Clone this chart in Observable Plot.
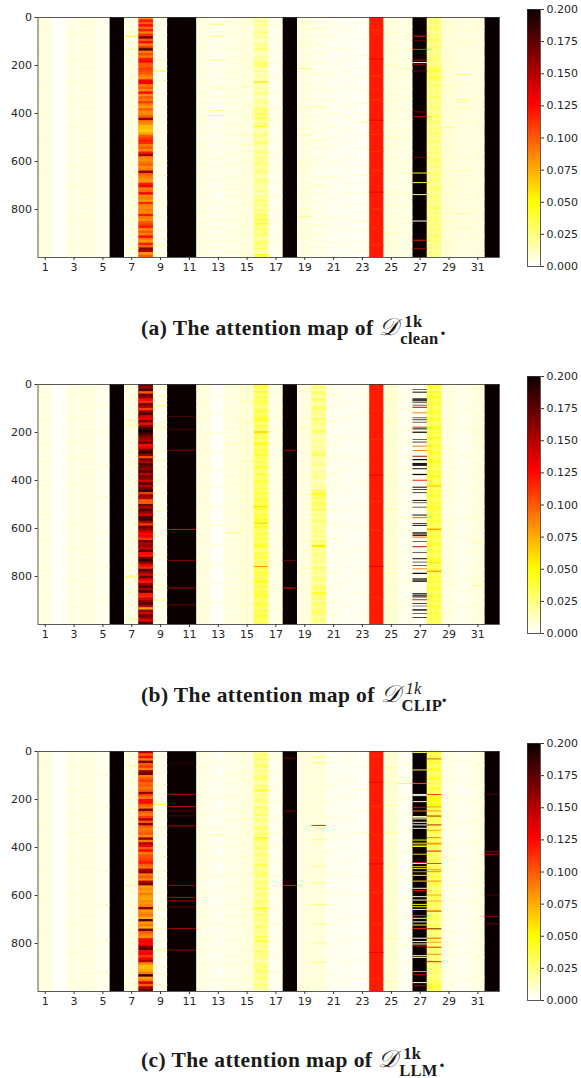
<!DOCTYPE html>
<html><head><meta charset="utf-8">
<script src="https://cdn.jsdelivr.net/npm/d3@7"></script>
<script src="https://cdn.jsdelivr.net/npm/@observablehq/plot@0.6"></script>
<style>
html,body{margin:0;padding:0;background:#fff}
#page{position:relative;width:581px;height:1078px;overflow:hidden}
#page svg{position:absolute;background:transparent;overflow:visible}
.cap{position:absolute;white-space:nowrap;font:bold 21.5px "Liberation Serif",serif;letter-spacing:.4px;color:#1a1a1a;line-height:24px}
.cap .d{display:inline-block;width:21px;font:italic 24px/24px "DejaVu Serif","Liberation Serif",serif;letter-spacing:0}
.cap .st{position:absolute;font-size:16.5px;line-height:15px;letter-spacing:.3px}
</style></head><body><div id="page"></div>
<script>
const domainV=[0,.05,.127,.2], rangeC=["#ffffff","#ffff00","#ff0000","#0b0000"];
const columnsTick=[1,3,5,7,9,11,13,15,17,19,21,23,25,27,29,31];
const rowTicks=[0,200,400,600,800];
const barTicks=[0,.025,.05,.075,.1,.125,.15,.175,.2];
const captions=[["(a) The attention map of ","1k","clean",false],["(b) The attention map of ","1k","CLIP",true],["(c) The attention map of ","1k","LLM",false]];

// base level of each of the 32 columns
const baseA=[.006,.001,.005,.006,.004,.2,.005,.09,.004,.2,.2,.005,.003,.005,.006,.018,.004,.2,.006,.004,.003,.003,.002,.119,.006,.005,.2,.022,.008,.006,.006,.2];
const baseB=[.005,.001,.005,.006,.004,.2,.005,.165,.004,.2,.2,.006,.002,.006,.008,.03,.005,.2,.006,.022,.004,.003,.003,.119,.008,.004,.003,.033,.006,.004,.006,.2];
const baseC=[.006,.001,.005,.006,.004,.2,.005,.105,.004,.2,.2,.005,.003,.005,.006,.022,.004,.2,.006,.007,.003,.003,.002,.119,.008,.003,.2,.028,.005,.003,.005,.2];

// one value per ten rows
const col8A=[.085,.12,.1,.125,.095,.12,.09,.115,.17,.1,.125,.09,.11,.18,.09,.105,.09,.12,.13,.1,.1,.11,.105,.1,.09,.085,.13,.13,.09,.1,.085,.125,.085,.1,.09,.11,.09,.08,.1,.085,.085,.1,.16,.09,.085,.07,.07,.065,.075,.1,.11,.12,.115,.09,.1,.085,.12,.16,.09,.085,.09,.1,.085,.09,.16,.1,.09,.085,.08,.12,.13,.09,.095,.13,.085,.09,.08,.115,.09,.085,.09,.085,.12,.09,.085,.1,.11,.12,.085,.1,.09,.125,.09,.08,.12,.095,.16,.15,.08,.1];
const col8B=[.17,.16,.18,.1,.17,.16,.125,.115,.17,.15,.11,.16,.18,.14,.13,.17,.125,.16,.18,.2,.19,.17,.16,.15,.17,.125,.13,.17,.19,.16,.105,.17,.15,.18,.17,.16,.18,.15,.17,.16,.14,.18,.15,.17,.19,.11,.16,.15,.1,.1,.17,.15,.18,.16,.14,.18,.19,.15,.11,.17,.16,.14,.125,.13,.11,.17,.15,.16,.14,.18,.125,.12,.17,.19,.16,.13,.115,.18,.16,.14,.17,.13,.12,.16,.18,.15,.19,.12,.115,.14,.16,.18,.15,.08,.16,.14,.17,.16,.13,.18];
const col8C=[.15,.1,.125,.09,.165,.1,.11,.09,.16,.17,.09,.1,.11,.095,.1,.09,.1,.155,.105,.09,.125,.125,.1,.09,.17,.1,.09,.11,.15,.1,.165,.1,.09,.095,.1,.085,.16,.09,.15,.13,.1,.125,.09,.1,.105,.11,.12,.1,.09,.15,.16,.09,.1,.085,.15,.17,.08,.085,.075,.09,.08,.075,.085,.08,.09,.16,.08,.085,.09,.075,.18,.08,.09,.075,.17,.1,.09,.085,.125,.13,.125,.16,.18,.125,.13,.11,.13,.15,.09,.07,.07,.075,.09,.19,.08,.09,.14,.1,.15,.17];
const col16A=[.016,.02,.014,.022,.012,.018,.024,.014,.02,.012,.016,.022,.018,.026,.014,.012,.02,.016,.024,.03,.018,.014,.022,.012,.02,.016,.018,.024,.013,.02,.015,.022,.018,.012,.02,.024,.016,.02,.03,.026,.03,.02,.028,.016,.026,.022,.018,.014,.02,.026,.016,.022,.028,.018,.014,.02,.026,.016,.022,.018,.024,.026,.016,.02,.028,.018,.014,.022,.026,.018,.02,.016,.024,.014,.022,.018,.028,.02,.026,.016,.028,.02,.032,.026,.036,.024,.032,.022,.03,.02,.03,.024,.018,.026,.03,.02,.028,.018,.014,.032];
const col16B=[.04,.032,.028,.038,.024,.034,.028,.036,.03,.024,.03,.038,.026,.034,.04,.03,.026,.036,.028,.03,.038,.03,.034,.026,.04,.032,.028,.036,.03,.04,.032,.026,.034,.028,.038,.03,.024,.036,.03,.028,.036,.032,.026,.034,.028,.038,.03,.034,.04,.03,.036,.042,.034,.028,.04,.032,.044,.036,.03,.042,.034,.026,.038,.03,.036,.028,.034,.04,.03,.024,.036,.03,.04,.026,.034,.03,.038,.028,.04,.034,.03,.038,.044,.03,.036,.028,.04,.032,.036,.03,.028,.038,.034,.026,.036,.03,.04,.032,.028,.036];
const col16C=[.016,.028,.022,.032,.018,.024,.03,.02,.026,.018,.024,.03,.02,.016,.028,.022,.032,.018,.024,.02,.028,.022,.016,.03,.024,.02,.032,.018,.026,.022,.016,.024,.03,.02,.026,.018,.036,.028,.02,.024,.03,.018,.022,.028,.02,.026,.018,.032,.024,.02,.026,.03,.022,.018,.028,.02,.024,.03,.018,.026,.022,.02,.03,.024,.018,.036,.026,.02,.03,.022,.028,.018,.024,.03,.02,.026,.018,.032,.022,.028,.02,.024,.018,.03,.022,.026,.02,.016,.024,.028,.02,.03,.024,.018,.028,.022,.016,.026,.02,.018];
const col28A=[.03,.024,.028,.022,.03,.026,.02,.028,.024,.03,.026,.022,.03,.024,.02,.026,.022,.028,.024,.02,.028,.034,.04,.03,.026,.036,.028,.022,.03,.026,.022,.028,.024,.03,.02,.026,.022,.028,.024,.02,.026,.03,.022,.028,.024,.02,.026,.022,.03,.024,.02,.028,.024,.02,.026,.022,.028,.02,.024,.03,.026,.022,.028,.02,.024,.03,.022,.028,.024,.02,.026,.03,.024,.02,.028,.022,.026,.02,.024,.03,.022,.026,.02,.024,.028,.02,.026,.022,.028,.02,.024,.03,.022,.026,.02,.024,.022,.02,.026,.022];
const col28B=[.042,.036,.03,.04,.034,.044,.03,.036,.04,.03,.034,.04,.036,.03,.042,.034,.03,.036,.044,.032,.038,.03,.04,.034,.03,.042,.036,.03,.04,.034,.03,.038,.044,.032,.036,.03,.04,.034,.044,.036,.03,.04,.034,.03,.038,.03,.042,.034,.03,.04,.034,.044,.036,.03,.04,.032,.036,.04,.03,.034,.042,.036,.03,.04,.034,.03,.044,.036,.03,.04,.034,.03,.038,.042,.032,.036,.03,.04,.034,.03,.038,.032,.04,.03,.036,.042,.03,.034,.04,.03,.036,.03,.04,.034,.03,.038,.032,.036,.03,.034];
const col28C=[.04,.03,.036,.028,.042,.034,.03,.04,.032,.028,.036,.042,.03,.034,.028,.04,.034,.03,.036,.044,.046,.04,.05,.03,.036,.028,.034,.04,.03,.036,.028,.034,.03,.04,.03,.026,.036,.03,.034,.028,.03,.036,.026,.032,.028,.036,.03,.026,.034,.028,.036,.03,.04,.028,.034,.036,.03,.026,.034,.028,.036,.03,.026,.034,.028,.03,.036,.026,.03,.034,.028,.024,.032,.028,.036,.024,.03,.026,.034,.028,.024,.032,.028,.024,.03,.026,.024,.032,.028,.022,.03,.026,.03,.024,.028,.03,.032,.036,.04,.034];
const col20B=[.02,.028,.016,.03,.024,.018,.032,.022,.016,.028,.03,.02,.024,.016,.03,.022,.026,.018,.02,.03,.024,.016,.014,.02,.018,.014,.022,.018,.026,.03,.02,.014,.018,.024,.016,.012,.02,.016,.024,.018,.012,.016,.02,.014,.03,.036,.026,.034,.024,.032,.03,.024,.032,.02,.026,.018,.024,.028,.018,.022,.02,.026,.016,.024,.018,.028,.02,.05,.024,.018,.022,.026,.018,.024,.02,.016,.03,.02,.024,.016,.022,.026,.018,.02,.028,.03,.022,.036,.024,.03,.02,.032,.024,.024,.03,.03,.022,.02,.028,.02];

// rows with a faint streak in each pale column
const faintA={1:[40,130,220,290,400,510,640,780,880],3:[70,180,270,350,460,620,700,850,950],4:[30,120,210,300,380,520,590,730,820,940],
7:[15,60,105,160,210,255,310,370,445,495,560,610,670,735,790,840,905,965],9:[30,75,130,205,265,320,375,440,480,545,600,660,715,780,835,890,925,985],
12:[12,45,85,125,150,195,240,270,315,360,410,435,480,530,575,610,655,690,735,780,815,860,905,950,985],
13:[60,110,140,220,260,330,355,440,470,520,555,625,680,720,770,810,845,910,935,985],
14:[20,70,105,165,195,255,300,355,395,450,520,570,610,665,700,750,795,845,885,930,975],
15:[10,55,110,150,210,245,320,370,410,455,560,600,650,740,780,830,900,945,990],
17:[35,95,140,190,255,315,380,430,510,570,630,690,745,805,855,930],
19:[50,75,125,160,185,245,280,310,345,410,440,465,525,560,600,650,690,715,770,800,865,895,950,985],
20:[20,75,110,150,185,235,275,305,340,410,440,480,545,590,620,665,735,770,815,845,900,935,985],
21:[30,85,130,195,240,300,345,400,455,500,540,605,665,715,760,835,875,940],
22:[55,130,175,225,285,370,415,470,520,585,620,690,735,790,835,885,950],
23:[25,95,160,210,300,360,400,490,545,620,660,730,780,815,890,930,975],
25:[20,65,115,150,240,285,325,385,430,470,535,590,630,680,720,785,825,870,940,985],
26:[40,90,135,175,250,340,385,425,505,560,605,690,735,790,835,900,950],
29:[35,75,125,220,255,320,365,420,495,545,585,640,680,735,790,825,890,940,980],
30:[15,60,120,155,200,275,310,400,435,480,530,590,665,715,760,850,900,945],
31:[40,110,170,205,280,335,385,435,520,565,620,680,760,800,860,910,985]};
const faintB={1:[60,150,250,330,430,540,650,770,890],3:[40,140,240,310,420,580,680,820,930],4:[25,105,190,290,360,500,600,710,830,920],5:[80,200,340,470,620,760,900],
7:[20,65,120,170,225,280,340,400,465,520,575,640,690,755,820,870,925,975],9:[15,70,120,160,215,280,345,400,455,505,560,625,680,730,795,860,925,975],
12:[25,70,100,140,210,250,285,335,380,425,490,530,570,630,665,730,765,790,850,885,925,965,990],
13:[50,130,205,280,360,430,510,590,670,750,830,910],
14:[15,60,95,140,185,225,290,340,385,445,490,540,590,650,690,745,790,830,880,920,965],
15:[20,45,100,125,195,235,270,355,390,425,490,540,575,650,690,735,770,830,875,955],
17:[40,95,135,195,250,310,390,445,505,575,625,695,750,800,860,935],
19:[20,60,95,140,215,255,340,385,430,500,545,590,650,695,730,800,845,880,910,975],
21:[45,95,155,250,310,370,425,525,585,640,745,785,850,910,965],
22:[75,140,220,300,350,440,520,590,700,765,830,930],
23:[40,130,230,320,410,500,600,690,780,870,960],
25:[15,35,90,125,190,215,270,320,350,415,455,490,550,590,650,700,735,770,820,860,895,960,985],
26:[55,105,190,240,300,355,440,490,560,610,700,745,820,920],
29:[30,80,150,195,270,320,375,445,495,570,610,680,745,790,840,910,960],
30:[45,110,180,300,350,420,480,560,640,700,810,865,930],
31:[20,75,130,165,280,330,385,440,510,560,610,700,770,810,880,920,975]};
const faintC={1:[50,120,230,310,420,500,610,760,870],3:[65,160,260,340,450,600,720,840,960],4:[35,115,200,280,370,490,580,690,810,930],5:[100,230,360,500,640,790,920],
7:[25,85,130,170,240,290,350,390,450,510,590,640,700,760,800,860,920,980],9:[25,90,140,180,250,290,350,400,440,530,590,630,700,740,790,860,930,975],
12:[15,70,100,185,220,265,330,365,405,450,495,530,590,650,690,730,790,830,885,925,965],
13:[40,110,200,260,320,400,450,520,590,670,720,770,830,890,950],
14:[15,95,135,185,240,290,365,395,450,510,560,640,690,730,785,850,885,950],
15:[20,85,120,215,250,310,345,395,470,510,560,610,690,720,770,835,880,940],
17:[30,85,150,210,275,340,400,460,520,590,650,720,790,850,920],
19:[15,60,95,170,220,260,330,375,450,490,535,570,640,695,730,810,850,890,950,985],
21:[50,140,205,280,355,420,515,590,640,720,815,870,935],
22:[30,120,190,280,350,460,510,600,700,790,880,950],
23:[70,160,250,340,430,520,600,690,780,870,950],
25:[15,100,160,195,260,290,370,410,445,520,560,630,680,720,800,845,900,935,985],
26:[50,110,200,260,330,420,530,610,690,810,880],
29:[20,85,125,215,250,330,400,450,490,560,620,690,750,810,850,920,965],
30:[40,120,200,300,380,450,560,620,760,840,950],
31:[60,140,210,290,380,490,560,630,700,800,860,940]};

// [row, value] or [row, value, rows tall]
const stripesA={7:[[80,.05],[135,.02],[40,.012],[330,.015],[520,.012],[690,.012],[850,.012]],
9:[[5,.012],[180,.015],[225,.045],[410,.012],[620,.015],[770,.01],[950,.02]],
13:[[30,.04],[80,.035],[180,.03],[290,.02],[300,.015],[390,.025],[410,.03],[590,.02],[650,.012],[880,.015],[960,.012]],
14:[[130,.012],[230,.01],[330,.012],[490,.015],[720,.012],[820,.01]],
15:[[30,.012],[90,.01],[180,.015],[290,.02],[490,.02],[530,.02],[700,.012],[870,.012]],
16:[[205,.04],[270,.06],[420,.04],[455,.05],[860,.042],[990,.05]],
19:[[28,.012],[100,.012],[215,.03],[380,.015],[493,.02],[620,.012],[740,.015],[830,.03],[920,.015]],
20:[[48,.02],[375,.025],[514,.02],[700,.015],[870,.015],[960,.015]],
23:[[250,.01],[437,.02],[690,.012],[850,.015]],
24:[[55,.11],[70,.112],[175,.13],[245,.11],[300,.114],[345,.11],[430,.132],[490,.11],[560,.112],[640,.11],[730,.132],[800,.11],[880,.112],[950,.11]],
25:[[200,.02],[350,.012],[500,.015],[740,.015],[900,.02]],
26:[[215,.022],[300,.012],[470,.015],[650,.015],[860,.015]],
28:[[250,.045]],
29:[[285,.02],[460,.025],[180,.015],[700,.015],[850,.02]],
30:[[240,.03],[345,.025],[355,.025],[380,.02],[100,.015],[640,.02],[820,.025],[880,.02]]};
const col27A=[[80,.13],[97,.17],[135,.115],[180,.15],[190,.003],[198,.16],[225,.17],[395,.17],[415,.14],[585,.17],[650,.05],[690,.04],[740,.02],[850,.002],[930,.12],[965,.15]];
const blockA=[];

const stripesB={7:[[150,.025],[175,.02],[320,.012],[620,.015],[750,.012],[800,.03],[805,.03],[980,.02]],
9:[[50,.015],[90,.03],[180,.025],[320,.015],[530,.02],[710,.015],[840,.02],[900,.03]],
14:[[250,.018],[620,.03],[420,.012],[850,.012]],
15:[[70,.02],[160,.018],[320,.018],[450,.016],[610,.018],[800,.012],[920,.018]],
16:[[150,.05],[200,.075],[250,.055],[510,.06],[580,.065],[675,.05],[760,.085],[880,.05]],
18:[[276,.15],[850,.13],[735,.17]],
19:[[30,.012],[180,.02],[300,.012],[460,.015],[620,.012],[770,.015],[950,.012]],
20:[[460,.05],[675,.06],[870,.045]],
24:[[110,.112],[230,.11],[380,.13],[490,.112],[610,.11],[760,.132],[890,.112]],
25:[[60,.02],[160,.018],[380,.015],[520,.02],[790,.015],[930,.015]],
28:[[225,.055],[425,.07],[605,.09],[745,.06],[780,.085]],
31:[[200,.02],[240,.012],[660,.02],[840,.025]]};
const col27B=[[23,.2,2.5],[34,.2],[62,.2],[66,.2],[70,.2],[78,.2,2.5],[88,.2,2.5],[97,.15],[120,.09],[141,.2,2.5],[149,.2,3],[159,.2,2.5],[180,.12],[187,.2],[201,.2,5],[231,.2,2.5],[242,.2,3],[259,.09],[277,.09],[301,.15],[315,.2,5],[331,.2],[335,.2],[339,.2],[353,.2],[377,.2,5],[401,.12],[430,.2,4],[440,.2,3],[453,.2,3],[485,.2,4],[495,.2,2.5],[513,.2,2.5],[546,.2],[557,.1],[581,.2,3],[589,.2],[620,.2],[625,.2,4],[631,.18],[638,.1],[656,.2,2.5],[678,.14],[703,.2,2.5],[728,.2],[742,.2,2.5],[756,.2,2.5],[770,.09],[789,.2,5],[812,.2],[817,.2],[822,.2],[874,.2],[880,.2],[887,.2],[899,.13],[914,.2,3],[925,.2,2],[939,.2,3],[944,.2,2.5],[956,.2,2.5],[973,.2,3]];
const blockB=[[135,.18],[190,.18],[276,.16],[606,.135],[735,.16],[850,.15],[920,.17]];

const stripesC={7:[[60,.02],[200,.012],[310,.012],[560,.03],[720,.012],[830,.012],[970,.012]],
9:[[222,.05],[60,.012],[320,.015],[500,.015],[660,.012],[830,.03],[900,.012]],
13:[[350,.025]],
15:[[280,.018],[440,.015],[660,.015]],
16:[[165,.045],[360,.05],[655,.05],[790,.045]],
18:[[30,.17],[250,.17],[560,.13]],
20:[[25,.03],[50,.03],[310,.12],[370,.03],[480,.025],[550,.03],[640,.03],[720,.025],[800,.025],[880,.03]],
24:[[20,.112],[130,.13],[230,.11],[350,.112],[470,.13],[590,.11],[720,.112],[840,.13],[950,.112]],
25:[[70,.022],[130,.02],[225,.02],[340,.02],[480,.015],[780,.02],[960,.02]],
26:[[135,.045]],
32:[[180,.18],[420,.16],[430,.15],[690,.16],[720,.17],[600,.18]]};
const col27C=[[6,.03],[79,.04],[135,.1],[181,.001],[186,.01],[211,.002],[236,.14],[250,.09],[273,.01],[278,.01],[283,.02],[297,.01],[308,.004],[322,.002],[371,.04],[384,.05],[392,.06],[398,.05],[430,.06],[464,.12],[469,.002],[482,.06],[490,.06],[503,.09],[518,.05],[542,.06],[572,.02],[582,.12],[607,.004],[621,.01],[639,.05],[649,.05],[660,.03],[686,.12],[697,.02],[712,.01],[725,.04],[739,.11],[780,.002],[794,.01],[804,.003],[812,.14],[853,.004],[860,.02],[919,.08],[932,.15],[965,.01],[978,.15]];
const accent28C=[[-2,.17],[33,.11],[79,.045],[181,.12],[233,.085],[250,.09],[271,.16],[308,.16],[330,.08],[361,.09],[386,.08,8],[417,.14],[469,.12],[495,.09],[503,.09],[542,.09],[600,.08],[625,.08],[667,.13],[741,.18],[780,.11],[797,.08],[818,.1,5],[847,.09],[878,.13]];
const blockC=[[50,.19],[180,.14],[232,.14],[250,.17],[270,.18],[312,.15],[560,.16],[610,.15],[625,.15],[650,.17],[740,.15],[830,.16]];

const panels=[
 {top:16.8,bar:8.5,cap:315,base:baseA,bins:{8:col8A,16:col16A,28:col28A},faint:faintA,stripes:stripesA,col27:col27A,col28:[],block:blockA},
 {top:384.3,bar:376,cap:682,base:baseB,bins:{8:col8B,16:col16B,20:col20B,28:col28B},faint:faintB,stripes:stripesB,col27:col27B,col28:[],block:blockB},
 {top:750.8,bar:742.5,cap:1047,base:baseC,bins:{8:col8C,16:col16C,28:col28C},faint:faintC,stripes:stripesC,col27:col27C,col28:accent28C,block:blockC}];

const page=document.getElementById("page");
const color={type:"linear",domain:domainV,range:rangeC,interpolate:"rgb",clamp:true};
const tickFont={fontFamily:"DejaVu Sans",fontSize:11,fill:"#262626"};
const faintLevel=.011;

panels.forEach((p,i)=>{
  const cells=[];
  const add=(c1,c2,a,b,v)=>cells.push({c1,c2,a:Math.max(0,a),b:Math.min(1000,b),v});
  const one=(c,s,dh)=>{const h=s[2]||dh;add(c-.5,c+.5,s[0]-h/2,s[0]+h/2,s[1]);};
  p.base.forEach((v,k)=>add(k+.5,k+1.5,0,1000,v));
  add(9.5,11.5,0,1000,.2);
  for(const c in p.bins) p.bins[c].forEach((v,k)=>add(+c-.5,+c+.5,k*10,k*10+11.5,v));
  for(const c in p.faint) p.faint[c].forEach(r=>add(+c-.5,+c+.5,r-2,r+2,faintLevel));
  for(const c in p.stripes) p.stripes[c].forEach(s=>one(+c,s,4));
  p.block.forEach(s=>add(9.5,11.5,s[0]-2,s[0]+2,s[1]));
  p.col27.forEach(s=>one(27,s,4));
  p.col28.forEach(s=>one(28,s,3.5));
  const heat=Plot.plot({
    width:505,height:285,marginLeft:37.5,marginRight:6,marginTop:10,marginBottom:35,
    style:{background:"transparent"},
    x:{domain:[.5,32.5],label:null},
    y:{domain:[1000,0],label:null},
    color,
    marks:[
      Plot.rect(cells,{x1:"c1",x2:"c2",y1:"a",y2:"b",fill:"v",shapeRendering:"geometricPrecision"}),
      Plot.frame({stroke:"#333",strokeWidth:.8}),
      Plot.axisX(columnsTick,{anchor:"bottom",tickSize:3,tickPadding:3,label:null,stroke:"#333",...tickFont}),
      Plot.axisY(rowTicks,{anchor:"left",tickSize:3,tickPadding:3,label:null,stroke:"#333",...tickFont})
    ]});
  heat.style.left="0px";heat.style.top=(p.top-10)+"px";
  page.appendChild(heat);

  const grad=d3.range(0,.2,.001);
  const bar=Plot.plot({
    width:66,height:277,marginLeft:8,marginRight:45,marginTop:10,marginBottom:10,
    style:{background:"transparent"},
    x:{domain:[0,1],axis:null},
    y:{domain:[0,.2],label:null},
    color,
    marks:[
      Plot.rect(grad,{x1:0,x2:1,y1:d=>d,y2:d=>Math.min(.2,d+.002),fill:d=>d+.0005,shapeRendering:"geometricPrecision"}),
      Plot.frame({stroke:"#333",strokeWidth:.8}),
      Plot.axisY(barTicks,{anchor:"right",tickSize:3,tickPadding:3,tickFormat:d3.format(".3f"),label:null,stroke:"#333",...tickFont})
    ]});
  bar.style.left="519px";bar.style.top=(p.bar-10)+"px";
  page.appendChild(bar);

  const [txt,sup,sub,ital]=captions[i];
  const cap=document.createElement("div");
  cap.className="cap";cap.style.left="141px";cap.style.top=p.cap+"px";
  const a=document.createElement("span");a.textContent=txt;cap.appendChild(a);
  const d=document.createElement("span");d.className="d";d.textContent="𝒟";cap.appendChild(d);
  const holder=document.createElement("span");holder.style.cssText="display:inline-block;position:relative;width:40px;height:1px";
  const s1=document.createElement("span");s1.className="st";s1.textContent=sup;s1.style.cssText="left:4px;top:-20px;"+(ital?"font-style:italic;font-weight:normal":"");
  const s2=document.createElement("span");s2.className="st";s2.textContent=sub;s2.style.cssText="left:0;top:-3px";
  holder.appendChild(s1);holder.appendChild(s2);cap.appendChild(holder);
  const e=document.createElement("span");e.textContent=".";cap.appendChild(e);
  page.appendChild(cap);
});
</script></body></html>
